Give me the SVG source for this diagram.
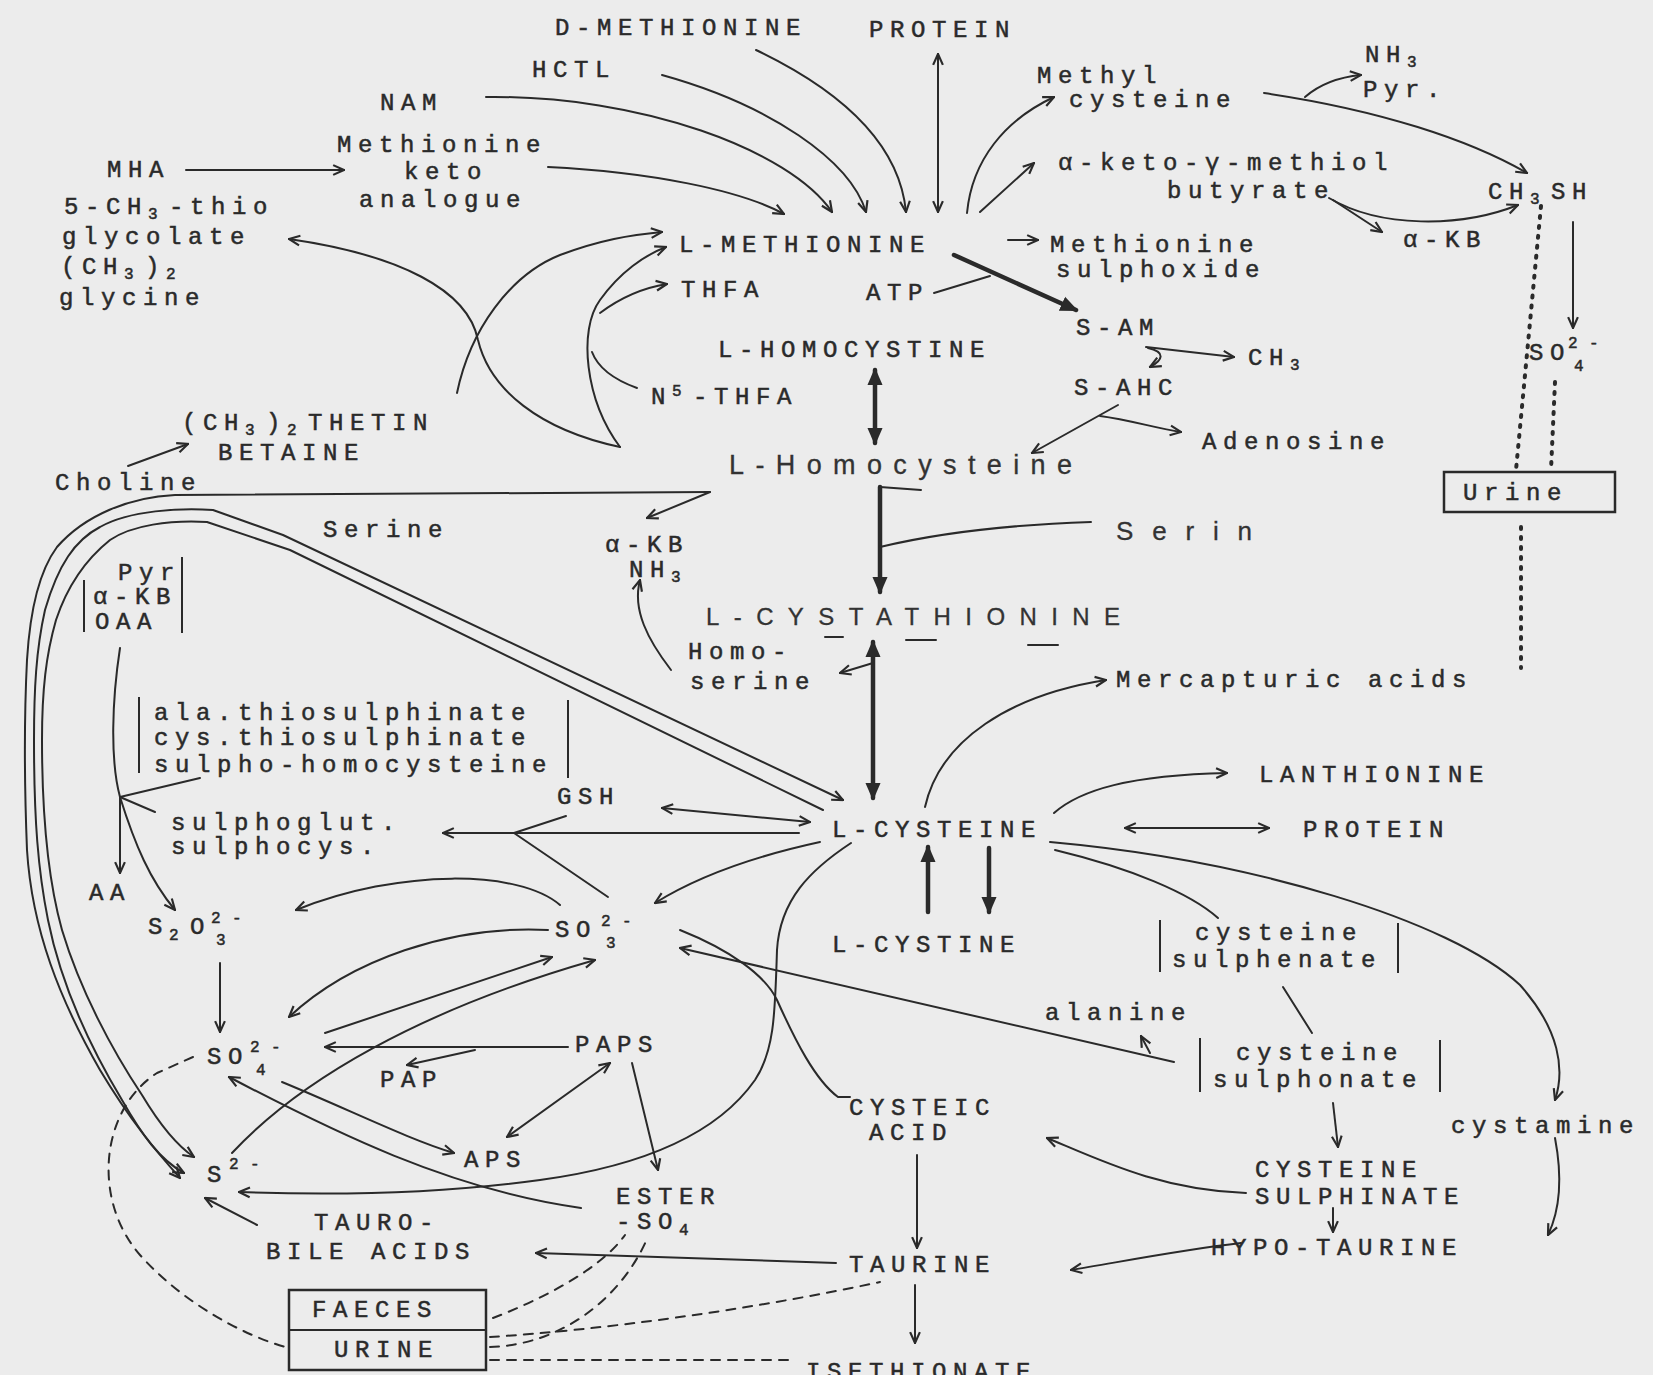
<svg xmlns="http://www.w3.org/2000/svg" width="1653" height="1375" viewBox="0 0 1653 1375">
<style>
.t{font-family:"Liberation Mono","DejaVu Sans Mono",monospace;font-size:24px;letter-spacing:6.6px;fill:#2a2a2a;stroke:#2a2a2a;stroke-width:0.5}
.sb{font-size:16px;letter-spacing:11.4px}
.h{font-family:"Liberation Sans","DejaVu Sans",sans-serif;fill:#333;stroke:#333;stroke-width:0.3}
.c path{fill:none;stroke:#2a2a2a;stroke-width:2;stroke-linecap:round;stroke-linejoin:round}
.c .k{stroke-width:4.5}
.c .d{stroke-dasharray:9 8}
.c .o{stroke-dasharray:2 8;stroke-width:4}
.ar{marker-end:url(#a)}
.ab{marker-start:url(#a);marker-end:url(#a)}
.arf{marker-end:url(#f)}
.abf{marker-start:url(#f);marker-end:url(#f)}
.bar{stroke:#2a2a2a;stroke-width:2;fill:none}
.box{stroke:#2a2a2a;stroke-width:2.5;fill:none}
</style>
<defs>
<marker id="a" viewBox="0 0 12 12" refX="11" refY="6" markerWidth="13" markerHeight="13" markerUnits="userSpaceOnUse" orient="auto-start-reverse"><path d="M1,1.5 L11,6 L1,10.5" fill="none" stroke="#2a2a2a" stroke-width="2"/></marker>
<marker id="f" viewBox="0 0 14 12" refX="12" refY="6" markerWidth="18" markerHeight="16" markerUnits="userSpaceOnUse" orient="auto-start-reverse"><path d="M0,0 L14,6 L0,12 z" fill="#2a2a2a"/></marker>
</defs>
<rect width="1653" height="1375" fill="#ececec"/>

<g id="connectors" class="c">
<path class="ar" d="M756,50 C850,95 900,150 906,212"/>
<path class="ar" d="M662,75 C770,105 850,160 866,212"/>
<path class="ar" d="M486,97 C640,95 790,150 832,212"/>
<path class="ar" d="M548,167 C650,172 740,190 784,214"/>
<path class="ab" d="M938,54 L938,212"/>
<path class="ar" d="M967,213 C972,160 1005,120 1054,97"/>
<path class="ar" d="M980,212 L1034,163"/>
<path class="ar" d="M1008,240 L1038,240"/>
<path class="k arf" d="M954,255 L1076,310"/>
<path d="M934,293 L990,276"/>
<path class="ar" d="M1146,347 L1234,357"/>
<path class="ar" d="M1148,348 C1166,352 1163,360 1150,367"/>
<path class="ar" d="M1118,405 L1032,453"/>
<path class="ar" d="M1100,416 C1130,420 1155,428 1181,432"/>
<path class="k abf" d="M875,370 L875,443"/>
<path class="ar" d="M1264,93 C1380,110 1470,140 1527,173"/>
<path class="ar" d="M1305,97 C1320,84 1340,77 1361,75"/>
<path class="ar" d="M1329,198 C1380,228 1460,228 1518,205"/>
<path class="ar" d="M1333,200 L1382,232"/>
<path class="ar" d="M1573,222 L1573,328"/>
<path class="o" d="M1541,206 L1516,470"/>
<path class="o" d="M1555,382 L1551,470"/>
<path class="o" d="M1521,527 L1521,668"/>
<path class="ar" d="M186,170 L344,170"/>
<path class="ar" d="M620,447 C540,430 490,390 478,340 C468,290 400,255 289,239"/>
<path class="ar" d="M457,393 C470,330 510,275 560,255 C600,240 630,235 662,232"/>
<path class="ar" d="M620,447 C585,400 578,330 600,300 C620,272 645,255 666,247"/>
<path class="ar" d="M600,313 C620,298 642,288 667,284"/>
<path d="M637,388 C615,380 598,368 592,352"/>
<path class="ar" d="M128,466 L188,444"/>
<path class="ar" d="M710,492 L175,495 C130,497 85,515 57,547 C40,570 30,610 27,660 C24,720 25,800 27,850 C32,930 60,1000 100,1070 C130,1120 155,1150 180,1178"/>
<path class="ar" d="M710,492 L647,518"/>
<path class="ab" d="M843,800 L283,535 L213,510 C180,508 130,510 100,527 C75,540 58,565 45,610 C36,650 34,690 34,740 C34,820 38,870 48,920 C62,990 92,1050 122,1100 C142,1135 160,1160 184,1173"/>
<path class="ar" d="M823,810 L290,550 L207,522 C170,520 132,525 110,540 C85,560 67,587 56,620 C46,655 42,690 42,740 C42,820 48,880 62,930 C80,990 112,1050 142,1095 C160,1125 176,1145 194,1157"/>
<path d="M120,648 C112,700 110,760 120,797"/>
<path d="M120,797 L200,778"/>
<path d="M120,797 L155,812"/>
<path class="ar" d="M120,797 L120,873"/>
<path class="ar" d="M120,797 C135,845 150,880 175,910"/>
<path class="ar" d="M799,833 L443,833"/>
<path d="M514,833 L566,816"/>
<path d="M514,833 L608,897"/>
<path class="ab" d="M662,808 L810,822"/>
<path class="ar" d="M820,842 C760,855 700,875 655,903"/>
<path class="ar" d="M925,807 C940,740 1010,695 1106,680"/>
<path class="ar" d="M1054,813 C1080,790 1130,775 1227,773"/>
<path class="ab" d="M1125,828 L1269,828"/>
<path d="M1055,850 C1130,868 1190,893 1218,918"/>
<path class="ar" d="M1050,842 C1250,860 1450,920 1520,985 C1560,1030 1565,1070 1555,1100"/>
<path class="ar" d="M1555,1138 C1563,1180 1560,1210 1548,1235"/>
<path d="M1283,987 L1312,1033"/>
<path class="ar" d="M1333,1103 L1338,1147"/>
<path class="ar" d="M1246,1193 C1160,1190 1100,1160 1047,1138"/>
<path class="ar" d="M1333,1208 L1333,1232"/>
<path class="ar" d="M1241,1243 C1180,1250 1120,1262 1071,1270"/>
<path class="ar" d="M1174,1062 L680,948"/>
<path class="ar" d="M1150,1053 L1141,1036"/>
<path d="M680,930 C730,950 765,975 777,1000 C795,1040 815,1080 838,1097 L850,1097"/>
<path class="ar" d="M851,843 C810,870 780,900 777,950 C775,1010 775,1050 755,1080 C720,1130 650,1165 540,1180 C430,1195 320,1195 239,1192"/>
<path class="ar" d="M232,1153 C300,1080 420,1010 595,960"/>
<path class="ar" d="M325,1033 L552,957"/>
<path class="ar" d="M548,930 C450,925 350,960 289,1017"/>
<path class="ar" d="M560,905 C520,870 400,868 296,910"/>
<path class="ar" d="M568,1047 L325,1047"/>
<path class="ar" d="M475,1050 L407,1065"/>
<path class="ar" d="M282,1082 C350,1110 410,1140 454,1153"/>
<path class="ab" d="M507,1137 L610,1063"/>
<path class="ar" d="M632,1063 L658,1170"/>
<path class="ar" d="M581,1208 C450,1190 330,1130 229,1077"/>
<path class="ar" d="M257,1225 L205,1198"/>
<path class="ar" d="M836,1263 L536,1253"/>
<path class="ar" d="M220,963 L220,1032"/>
<path class="d" d="M193,1057 L157,1073 C100,1110 92,1200 140,1255 C180,1300 240,1335 289,1348"/>
<path class="d" d="M493,1318 C540,1300 600,1270 625,1235"/>
<path class="d" d="M490,1337 C600,1330 750,1310 880,1282"/>
<path class="d" d="M490,1347 C560,1345 620,1300 647,1239"/>
<path class="d" d="M490,1360 L795,1360"/>
<path class="ar" d="M917,1155 L917,1248"/>
<path class="ar" d="M915,1285 L915,1343"/>
<path class="k arf" d="M928,912 L928,847"/>
<path class="k arf" d="M989,848 L989,912"/>
<path class="k abf" d="M873,642 L873,798"/>
<path class="ar" d="M873,663 L840,673"/>
<path class="ar" d="M671,670 C648,640 632,610 640,580"/>
<path class="k arf" d="M880,487 L880,592"/>
<path d="M880,487 L921,490"/>
<path d="M1091,522 C1000,525 930,535 880,547"/>
<path d="M825,637 L843,637"/>
<path d="M906,640 L936,640"/>
<path d="M1028,645 L1058,645"/>
</g>

<g id="d-methionine"><text class="t" x="555" y="35">D-METHIONINE</text></g>
<g id="protein-top"><text class="t" x="869" y="37">PROTEIN</text></g>
<g id="hctl"><text class="t" x="532" y="77">HCTL</text></g>
<g id="nam"><text class="t" x="380" y="110">NAM</text></g>
<g id="methionine-keto-analogue"><text class="t" x="337" y="152">Methionine</text><text class="t" x="404" y="179">keto</text><text class="t" x="359" y="207">analogue</text></g>
<g id="mha"><text class="t" x="107" y="177">MHA</text></g>
<g id="thio-glycolate"><text class="t" x="64" y="214">5-CH<tspan class="sb" dy="5">3</tspan><tspan dy="-5">-thio</tspan></text><text class="t" x="62" y="244">glycolate</text><text class="t" x="61" y="274">(CH<tspan class="sb" dy="5">3</tspan><tspan dy="-5">)</tspan><tspan class="sb" dy="5">2</tspan></text><text class="t" x="59" y="305">glycine</text></g>
<g id="methyl-cysteine"><text class="t" x="1037" y="83">Methyl</text><text class="t" x="1069" y="107">cysteine</text></g>
<g id="nh3-pyr"><text class="t" x="1365" y="62">NH<tspan class="sb" dy="5">3</tspan></text><text class="t" x="1363" y="97">Pyr.</text></g>
<g id="keto-methiol-butyrate"><text class="t" x="1058" y="170">α-keto-γ-methiol</text><text class="t" x="1167" y="198">butyrate</text></g>
<g id="ch3sh"><text class="t" x="1488" y="199">CH<tspan class="sb" dy="5">3</tspan><tspan dy="-5">SH</tspan></text></g>
<g id="akb-right"><text class="t" x="1403" y="247">α-KB</text></g>
<g id="l-methionine"><text class="t" x="679" y="252">L-METHIONINE</text></g>
<g id="methionine-sulphoxide"><text class="t" x="1050" y="252">Methionine</text><text class="t" x="1056" y="277">sulphoxide</text></g>
<g id="thfa"><text class="t" x="681" y="297">THFA</text></g>
<g id="atp"><text class="t" x="866" y="300">ATP</text></g>
<g id="s-am"><text class="t" x="1076" y="335">S-AM</text></g>
<g id="ch3"><text class="t" x="1248" y="365">CH<tspan class="sb" dy="5">3</tspan></text></g>
<g id="s-ahc"><text class="t" x="1074" y="395">S-AHC</text></g>
<g id="adenosine"><text class="t" x="1202" y="449">Adenosine</text></g>
<g id="l-homocystine"><text class="t" x="718" y="357">L-HOMOCYSTINE</text></g>
<g id="n5-thfa"><text class="t" x="651" y="404">N<tspan class="sb" dy="-8">5</tspan><tspan dy="8">-THFA</tspan></text></g>
<g id="thetin-betaine"><text class="t" x="182" y="430">(CH<tspan class="sb" dy="5">3</tspan><tspan dy="-5">)</tspan><tspan class="sb" dy="5">2</tspan><tspan dy="-5">THETIN</tspan></text><text class="t" x="218" y="460">BETAINE</text></g>
<g id="l-homocysteine"><text class="h" x="729" y="474" font-size="27" textLength="343" lengthAdjust="spacing">L-Homocysteine</text></g>
<g id="choline"><text class="t" x="55" y="490">Choline</text></g>
<g id="serine"><text class="t" x="323" y="537">Serine</text></g>
<g id="akb-nh3"><text class="t" x="605" y="552">α-KB</text><text class="t" x="629" y="577">NH<tspan class="sb" dy="5">3</tspan></text></g>
<g id="serin"><text class="h" x="1116" y="540" font-size="26" textLength="136" lengthAdjust="spacing">Serin</text></g>
<g id="pyr-akb-oaa"><text class="t" x="118" y="580">Pyr</text><text class="t" x="93" y="604">α-KB</text><text class="t" x="95" y="629">OAA</text><path class="bar" d="M84,580 L84,632 M182,557 L182,633"/></g>
<g id="l-cystathionine"><text class="h" x="706" y="625" font-size="24" textLength="414" lengthAdjust="spacing">L-CYSTATHIONINE</text></g>
<g id="homoserine"><text class="t" x="688" y="659">Homo-</text><text class="t" x="690" y="689">serine</text></g>
<g id="mercapturic-acids"><text class="t" x="1116" y="687">Mercapturic acids</text></g>
<g id="thiosulphinates"><text class="t" x="154" y="720">ala.thiosulphinate</text><text class="t" x="154" y="745">cys.thiosulphinate</text><text class="t" x="154" y="772">sulpho-homocysteine</text><path class="bar" d="M139,697 L139,773 M568,700 L568,778"/></g>
<g id="gsh"><text class="t" x="557" y="804">GSH</text></g>
<g id="lanthionine"><text class="t" x="1259" y="782">LANTHIONINE</text></g>
<g id="l-cysteine"><text class="t" x="832" y="837">L-CYSTEINE</text></g>
<g id="protein-right"><text class="t" x="1303" y="837">PROTEIN</text></g>
<g id="sulphoglut"><text class="t" x="171" y="830">sulphoglut.</text><text class="t" x="171" y="854">sulphocys.</text></g>
<g id="aa"><text class="t" x="89" y="900">AA</text></g>
<g id="s2o3"><text class="t" x="148" y="934">S<tspan class="sb" dy="6">2</tspan><tspan dy="-6">O</tspan><tspan class="sb" x="211" dy="-11">2-</tspan><tspan class="sb" x="216" dy="22">3</tspan></text></g>
<g id="so3"><text class="t" x="555" y="937">SO<tspan class="sb" x="601" dy="-11">2-</tspan><tspan class="sb" x="606" dy="22">3</tspan></text></g>
<g id="l-cystine"><text class="t" x="832" y="952">L-CYSTINE</text></g>
<g id="cysteine-sulphenate"><text class="t" x="1195" y="940">cysteine</text><text class="t" x="1172" y="967">sulphenate</text><path class="bar" d="M1160,920 L1160,972 M1398,923 L1398,973"/></g>
<g id="alanine"><text class="t" x="1045" y="1020">alanine</text></g>
<g id="so4-left"><text class="t" x="207" y="1064">SO<tspan class="sb" x="250" dy="-12">2-</tspan><tspan class="sb" x="256" dy="23">4</tspan></text></g>
<g id="paps"><text class="t" x="575" y="1052">PAPS</text></g>
<g id="pap"><text class="t" x="380" y="1087">PAP</text></g>
<g id="cysteine-sulphonate"><text class="t" x="1236" y="1060">cysteine</text><text class="t" x="1213" y="1087">sulphonate</text><path class="bar" d="M1200,1038 L1200,1092 M1440,1040 L1440,1092"/></g>
<g id="cysteic-acid"><text class="t" x="849" y="1115">CYSTEIC</text><text class="t" x="869" y="1140">ACID</text></g>
<g id="cystamine"><text class="t" x="1451" y="1133">cystamine</text></g>
<g id="s2"><text class="t" x="207" y="1182">S<tspan class="sb" x="229" dy="-13">2-</tspan></text></g>
<g id="aps"><text class="t" x="464" y="1167">APS</text></g>
<g id="cysteine-sulphinate"><text class="t" x="1255" y="1177">CYSTEINE</text><text class="t" x="1255" y="1204">SULPHINATE</text></g>
<g id="ester-so4"><text class="t" x="616" y="1204">ESTER</text><text class="t" x="616" y="1229">-SO<tspan class="sb" dy="6">4</tspan></text></g>
<g id="tauro-bile-acids"><text class="t" x="314" y="1230">TAURO-</text><text class="t" x="266" y="1259">BILE ACIDS</text></g>
<g id="hypo-taurine"><text class="t" x="1211" y="1255">HYPO-TAURINE</text></g>
<g id="taurine"><text class="t" x="849" y="1272">TAURINE</text></g>
<g id="faeces-urine"><rect class="box" x="289" y="1290" width="197" height="80"/><path class="bar" d="M289,1330 L486,1330"/><text class="t" x="312" y="1317">FAECES</text><text class="t" x="334" y="1357">URINE</text></g>
<g id="isethionate"><text class="t" x="806" y="1379">ISETHIONATE</text></g>
<g id="so4-right"><text class="t" x="1529" y="360">SO<tspan class="sb" x="1568" dy="-12">2-</tspan><tspan class="sb" x="1574" dy="23">4</tspan></text></g>
<g id="urine-right"><rect class="box" x="1444" y="472" width="171" height="40"/><text class="t" x="1463" y="500">Urine</text></g>
</svg>
